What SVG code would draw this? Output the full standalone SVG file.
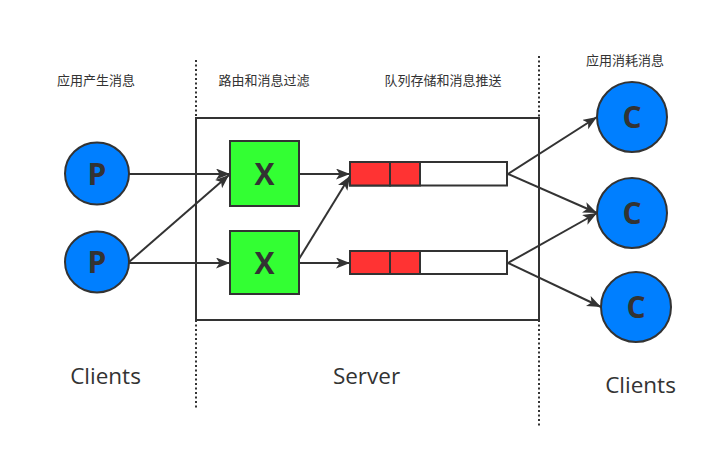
<svg xmlns="http://www.w3.org/2000/svg" width="710" height="462" viewBox="0 0 710 462">
<defs>
<marker id="arr" markerUnits="userSpaceOnUse" markerWidth="16" markerHeight="12" refX="14" refY="5.5" orient="auto">
<path d="M0,0 L14,5.5 L0,11 L3.5,5.5 z" fill="#333"/>
</marker>
<style>
.bg{fill:#fff}
.ln{stroke:#333;stroke-width:2;fill:none}
.dot{stroke:#333;stroke-width:2;fill:none;stroke-dasharray:2 2.5}
.node{stroke:#333;stroke-width:2}
.blue{fill:#007fff}
.green{fill:#33ff33}
.red{fill:#ff3333}
.white{fill:#fff}
.big{font-family:"Open Sans","Liberation Sans",sans-serif;font-weight:bold;font-size:30px;fill:#333;text-anchor:middle}
.cn{font-family:"Noto Sans CJK SC",sans-serif;font-size:13px;fill:#333;text-anchor:middle}
.lbl{font-family:"Open Sans","Liberation Sans",sans-serif;font-size:22.5px;fill:#333;text-anchor:middle}
.conn{stroke:#333;stroke-width:2;fill:none;marker-end:url(#arr)}
</style>
</defs>
<rect class="bg" x="0" y="0" width="710" height="462"/>
<g id="dividers">
<path class="dot" d="M196,60 L196,117 M196,320 L196,410"/>
<path class="dot" d="M539,56 L539,117 M539,320 L539,427"/>
</g>
<g id="server">
<rect class="ln" x="196" y="118" width="343" height="202"/>
</g>
<g id="labels">
<text class="cn" x="96" y="85">应用产生消息</text>
<text class="cn" x="264" y="85">路由和消息过滤</text>
<text class="cn" x="443" y="85">队列存储和消息推送</text>
<text class="cn" x="625" y="65">应用消耗消息</text>
<text class="lbl" x="105.5" y="384">Clients</text>
<text class="lbl" x="366.5" y="384">Server</text>
<text class="lbl" x="640.5" y="393">Clients</text>
</g>
<g id="p1"><ellipse class="node blue" cx="97" cy="173.5" rx="32" ry="31"/><text class="big" x="97" y="184.5">P</text></g>
<g id="p2"><ellipse class="node blue" cx="97" cy="262" rx="32" ry="30.5"/><text class="big" x="97" y="273">P</text></g>
<g id="x1"><rect class="node green" x="230" y="141" width="69" height="65"/><text class="big" x="264.5" y="184.5">X</text></g>
<g id="x2"><rect class="node green" x="230" y="231" width="69" height="63"/><text class="big" x="264.5" y="273.5">X</text></g>
<g id="q1"><rect class="node white" x="350" y="162" width="157" height="23.5"/><rect class="node red" x="350" y="162" width="40" height="23.5"/><rect class="node red" x="390" y="162" width="30" height="23.5"/></g>
<g id="q2"><rect class="node white" x="350" y="251" width="157" height="23"/><rect class="node red" x="350" y="251" width="40" height="23"/><rect class="node red" x="390" y="251" width="30" height="23"/></g>
<g id="c1"><circle class="node blue" cx="632" cy="117" r="35"/><text class="big" x="632" y="127.5">C</text></g>
<g id="c2"><circle class="node blue" cx="632" cy="213" r="35"/><text class="big" x="632" y="223.5">C</text></g>
<g id="c3"><circle class="node blue" cx="636" cy="307" r="35"/><text class="big" x="636" y="317.5">C</text></g>
<g id="connectors">
<path class="conn" d="M129,174 L230,174"/>
<path class="conn" d="M129,262 L229,175"/>
<path class="conn" d="M129,263 L230,263"/>
<path class="conn" d="M299,174 L350,174"/>
<path class="conn" d="M299,263 L350,263"/>
<path class="conn" d="M299,259 L350,176"/>
<path class="conn" d="M508,174 L597,117"/>
<path class="conn" d="M508,174 L597,213"/>
<path class="conn" d="M508,263 L597,213"/>
<path class="conn" d="M508,263 L601,307"/>
</g>
</svg>
